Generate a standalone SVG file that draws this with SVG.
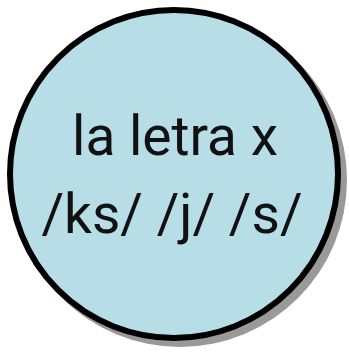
<svg xmlns="http://www.w3.org/2000/svg" width="349" height="352" viewBox="0 0 349 352">
<style>
.shadow{fill:#999999;}
.node{fill:#b7dde6;stroke:#000000;stroke-width:6;}
.label{font-family:Roboto,"Liberation Sans",sans-serif;font-size:55px;fill:#111111;text-anchor:middle;}
</style>
<rect width="349" height="352" fill="#ffffff"/>
<g id="connectors"></g>
<g id="node-x">
<circle class="shadow" cx="180" cy="180" r="167"/>
<circle class="node" cx="174" cy="174" r="164"/>
<text class="label" x="175" y="155">la letra x</text>
<text class="label" x="172" y="233">/ks/  /j/  /s/</text>
</g>
</svg>
